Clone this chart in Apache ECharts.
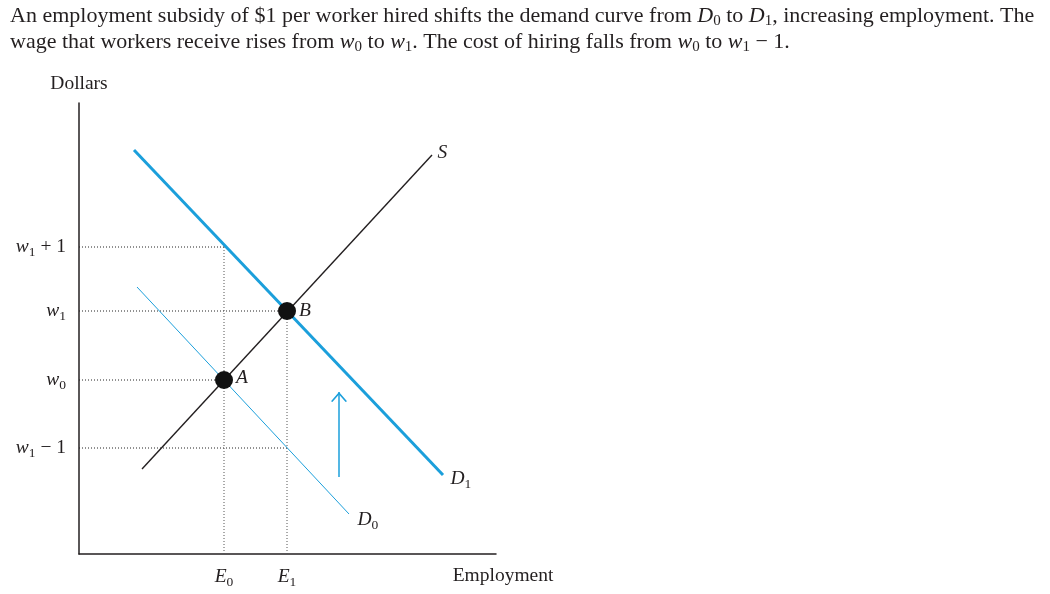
<!DOCTYPE html>
<html><head><meta charset="utf-8">
<script src="https://cdn.jsdelivr.net/npm/echarts@6/dist/echarts.min.js"></script>
<style>html,body{margin:0;padding:0;background:#fff}#c{width:1050px;height:594px}</style>
</head><body><div id="c"></div><script>
const SERIF = "'Liberation Serif','Times New Roman',serif";
const INK = '#231f20';
const BLUE = '#1b9fdb';
const GUIDE_H = '#222';
const GUIDE_V = '#555';

// ---- data (chart units) ----
const xRange = [0, 417];
const yRange = [0, 451];
const employmentTicks = [145, 208];
const employmentTickLabels = ['{i|E}{s|0}', '{i|E}{s|1}'];
const wageTicks = [106, 174, 243, 307];
const wageTickLabels = ['{i|w}{s|1}{n| \u2212 1}', '{i|w}{s|0}', '{i|w}{s|1}', '{i|w}{s|1}{n| + 1}'];
const supplyS = [[63, 85], [353, 399]];
const demandD0 = [[58, 267], [270, 40]];
const demandD1 = [[55, 404], [364, 79]];
const equilibria = [[145, 174], [208, 243]];
const equilibriumNames = ['A', 'B'];
const subsidyArrow = [[260, 77], [260, 162]];
const guidePairs = [[307, 145], [174, 145], [243, 208], [106, 208]]; // [wage, employment]
const curveNames = ['S', '{i|D}{s|0}', '{i|D}{s|1}'];

const rich = {
  i: {fontFamily: SERIF, fontStyle: 'italic', fontSize: 19.5, color: INK, lineHeight: 24},
  s: {fontFamily: SERIF, fontSize: 13.5, color: INK, lineHeight: 24, padding: [11, 0, 0, 0]},
  n: {fontFamily: SERIF, fontSize: 19.5, color: INK, lineHeight: 24}
};
const titleRich = {
  i: {fontFamily: SERIF, fontStyle: 'italic', fontSize: 22, color: INK, lineHeight: 26},
  s: {fontFamily: SERIF, fontSize: 15, color: INK, lineHeight: 26, padding: [11, 0, 0, 0]}
};

const series = [];
const vMax = {};
guidePairs.forEach(([w, e]) => {
  series.push({type: 'line', data: [[0, w], [e, w]], symbol: 'none', silent: true, z: 1,
    lineStyle: {color: GUIDE_H, width: 1, type: [1, 2]}});
  vMax[e] = Math.max(vMax[e] || 0, w);
});
Object.keys(vMax).forEach(e => {
  series.push({type: 'line', data: [[+e, 0], [+e, vMax[e]]], symbol: 'none', silent: true, z: 1,
    lineStyle: {color: GUIDE_V, width: 1, type: [1, 2]}});
});
series.push({type: 'line', data: demandD0, symbol: 'none', z: 2, lineStyle: {color: BLUE, width: 1}});
series.push({type: 'line', data: demandD1, symbol: 'none', z: 2, lineStyle: {color: BLUE, width: 3}});
series.push({type: 'line', data: supplyS, symbol: 'none', z: 3, lineStyle: {color: INK, width: 1.4}});
series.push({type: 'line', data: subsidyArrow, symbol: 'none', z: 2, lineStyle: {color: BLUE, width: 1.5}});
series.push({type: 'scatter', data: [subsidyArrow[1]], z: 2,
  symbol: 'path://M0,10 L8,0 L16,10 L14.6,10.8 L8,2.6 L1.4,10.8 Z', symbolSize: [16, 10], symbolOffset: [0, 5],
  itemStyle: {color: BLUE, opacity: 1}});
series.push({type: 'scatter', z: 5, symbolSize: 18, itemStyle: {color: '#111', opacity: 1},
  data: equilibria.map((p, k) => ({value: p, label: {show: true, position: 'right', distance: 3,
    offset: [0, k === 0 ? -2 : 0], formatter: '{i|' + equilibriumNames[k] + '}', rich}}))});
const ends = [supplyS[1], demandD0[1], demandD1[1]];
const endOpts = [{distance: 5, offset: [0, -2]}, {distance: 8, offset: [0, 6]}, {distance: 7, offset: [0, 4]}];
series.push({type: 'scatter', z: 5, symbolSize: 1, itemStyle: {color: 'rgba(0,0,0,0)', opacity: 1},
  data: ends.map((p, k) => ({value: p, label: Object.assign({show: true, position: 'right',
    formatter: curveNames[k].startsWith('{') ? curveNames[k] : '{i|' + curveNames[k] + '}', rich}, endOpts[k])}))});

const chart = echarts.init(document.getElementById('c'));
chart.setOption({
  animation: false,
  title: {
    left: 5, top: -2,
    text: 'An employment subsidy of $1 per worker hired shifts the demand curve from {i|D}{s|0} to {i|D}{s|1}, increasing employment. The\nwage that workers receive rises from {i|w}{s|0} to {i|w}{s|1}. The cost of hiring falls from {i|w}{s|0} to {i|w}{s|1} \u2212 1.',
    textStyle: {fontFamily: SERIF, fontSize: 22, fontWeight: 'normal', color: INK, lineHeight: 26, rich: titleRich}
  },
  grid: {left: 79, top: 103, width: 417, height: 451, outerBoundsMode: 'none'},
  xAxis: {type: 'value', min: xRange[0], max: xRange[1],
    axisLine: {show: true, lineStyle: {color: INK, width: 1.5}}, axisTick: {show: false}, splitLine: {show: false},
    axisLabel: {customValues: employmentTicks, margin: 11,
      formatter: v => employmentTickLabels[employmentTicks.indexOf(v)], rich},
    name: 'Employment', nameLocation: 'end', nameGap: 7,
    nameTextStyle: {fontFamily: SERIF, fontSize: 19.5, color: INK, align: 'center', verticalAlign: 'top', padding: [12, 0, 0, 0]}},
  yAxis: {type: 'value', min: yRange[0], max: yRange[1],
    axisLine: {show: true, lineStyle: {color: INK, width: 1.5}}, axisTick: {show: false}, splitLine: {show: false},
    axisLabel: {customValues: wageTicks, margin: 13,
      formatter: v => wageTickLabels[wageTicks.indexOf(v)], rich},
    name: 'Dollars', nameLocation: 'end', nameGap: 19,
    nameTextStyle: {fontFamily: SERIF, fontSize: 19.5, color: INK, align: 'center', verticalAlign: 'middle'}},
  series
});
</script></body></html>
